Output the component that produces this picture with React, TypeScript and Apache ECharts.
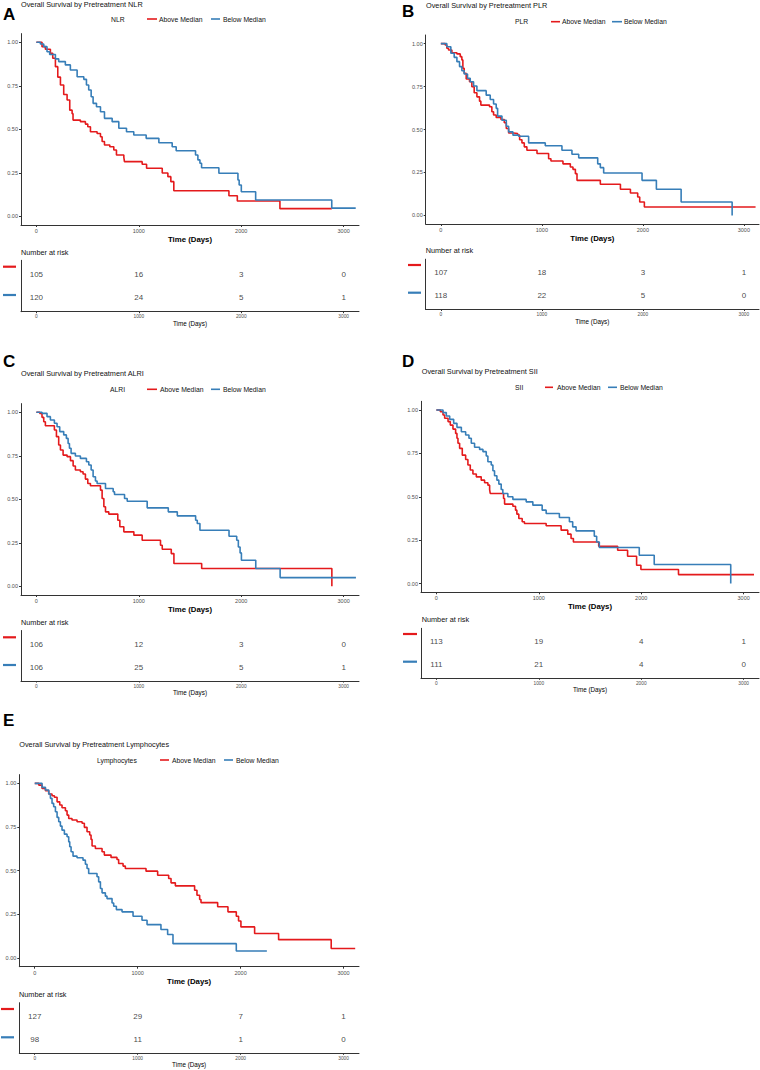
import React, { useEffect, useRef } from "react";
import * as echarts from "echarts";

const RED = "#E41A1C";
const BLUE = "#377EB8";
const FONT = '"Liberation Sans", Arial, Helvetica, sans-serif';

const timeTicks = [0, 1000, 2000, 3000];
const survTicks = [0, 0.25, 0.5, 0.75, 1];
const groupNames = ["Above Median", "Below Median"];

// ---- Panel A: NLR ----
const nlrAbove = [[0,1],[55,0.975],[88,0.96],[137,0.937],[160,0.908],[186,0.86],[209,0.8],[235,0.755],[267,0.7],[300,0.668],[326,0.61],[349,0.59],[358,0.553],[430,0.544],[479,0.53],[502,0.515],[528,0.486],[593,0.476],[626,0.457],[642,0.43],[665,0.41],[717,0.4],[756,0.381],[782,0.352],[854,0.339],[860,0.314],[1033,0.299],[1076,0.276],[1229,0.249],[1284,0.228],[1313,0.199],[1342,0.147],[1880,0.118],[1962,0.088],[2378,0.044],[2884,0.044]];
const nlrBelow = [[0,1],[39,0.99],[72,0.975],[104,0.946],[130,0.93],[186,0.905],[218,0.889],[283,0.87],[332,0.841],[398,0.802],[463,0.787],[489,0.755],[511,0.726],[535,0.687],[554,0.649],[587,0.63],[626,0.601],[665,0.563],[740,0.544],[805,0.506],[880,0.486],[951,0.467],[1072,0.448],[1196,0.423],[1326,0.4],[1365,0.377],[1554,0.352],[1577,0.324],[1597,0.305],[1613,0.279],[1782,0.247],[1968,0.209],[1980,0.18],[2001,0.141],[2141,0.094],[2884,0.047],[3118,0.047]];
const nlrRiskAbove = [105, 16, 3, 0];
const nlrRiskBelow = [120, 24, 5, 1];

// ---- Panel B: PLR ----
const plrAbove = [[0,1],[43,0.992],[59,0.973],[76,0.963],[109,0.947],[159,0.94],[192,0.924],[208,0.905],[218,0.856],[231,0.827],[251,0.794],[284,0.778],[307,0.749],[330,0.714],[357,0.69],[383,0.665],[396,0.642],[482,0.632],[505,0.603],[522,0.584],[548,0.57],[595,0.558],[628,0.539],[648,0.506],[671,0.48],[720,0.477],[760,0.467],[780,0.44],[803,0.422],[826,0.399],[852,0.379],[952,0.36],[1067,0.33],[1090,0.317],[1209,0.3],[1282,0.282],[1308,0.268],[1332,0.243],[1348,0.204],[1579,0.181],[1778,0.152],[1877,0.13],[1949,0.107],[1969,0.078],[2015,0.049],[3116,0.049]];
const plrBelow = [[0,1],[59,0.982],[99,0.944],[132,0.92],[159,0.895],[185,0.866],[208,0.842],[231,0.823],[264,0.798],[291,0.778],[324,0.753],[357,0.726],[449,0.7],[489,0.675],[522,0.648],[548,0.623],[562,0.578],[605,0.554],[648,0.519],[671,0.486],[714,0.467],[770,0.461],[869,0.422],[1034,0.405],[1199,0.379],[1298,0.356],[1365,0.335],[1553,0.3],[1579,0.278],[1612,0.247],[1992,0.204],[2134,0.152],[2379,0.078],[2884,0]];
const plrRiskAbove = [107, 18, 3, 1];
const plrRiskBelow = [118, 22, 5, 0];

// ---- Panel C: ALRI ----
const alriAbove = [[0,1],[33,0.994],[55,0.971],[72,0.946],[88,0.923],[176,0.898],[196,0.86],[218,0.812],[235,0.783],[261,0.754],[300,0.745],[333,0.722],[359,0.691],[381,0.668],[430,0.658],[456,0.645],[479,0.616],[502,0.591],[528,0.578],[626,0.553],[642,0.505],[659,0.457],[675,0.428],[707,0.415],[795,0.38],[815,0.342],[854,0.313],[952,0.294],[1033,0.265],[1212,0.236],[1229,0.213],[1317,0.188],[1343,0.131],[1614,0.102],[2885,0]];
const alriBelow = [[0,1],[55,0.994],[104,0.975],[137,0.956],[176,0.937],[202,0.917],[228,0.889],[267,0.87],[293,0.85],[310,0.821],[323,0.793],[339,0.764],[381,0.749],[430,0.735],[489,0.716],[512,0.697],[535,0.668],[554,0.63],[577,0.605],[593,0.591],[675,0.562],[750,0.543],[763,0.528],[861,0.505],[887,0.489],[1082,0.451],[1288,0.428],[1376,0.405],[1555,0.38],[1571,0.361],[1597,0.322],[1881,0.288],[1956,0.265],[1972,0.226],[1989,0.192],[2002,0.15],[2142,0.102],[2380,0.05],[3120,0.05]];
const alriRiskAbove = [106, 12, 3, 0];
const alriRiskBelow = [106, 25, 5, 1];

// ---- Panel D: SII ----
const siiAbove = [[0,1],[39,0.99],[65,0.971],[81,0.952],[114,0.933],[136,0.913],[162,0.89],[188,0.865],[201,0.837],[211,0.808],[227,0.779],[253,0.74],[286,0.715],[308,0.683],[331,0.654],[357,0.631],[390,0.615],[438,0.596],[471,0.581],[503,0.567],[520,0.542],[526,0.519],[656,0.49],[666,0.458],[747,0.446],[773,0.423],[786,0.4],[805,0.375],[838,0.356],[860,0.346],[1072,0.333],[1218,0.308],[1283,0.285],[1315,0.26],[1338,0.24],[1585,0.215],[1770,0.192],[1867,0.158],[1955,0.106],[1997,0.081],[2364,0.052],[3101,0.052]];
const siiBelow = [[0,1],[65,0.985],[97,0.965],[130,0.946],[169,0.923],[201,0.9],[244,0.875],[286,0.856],[318,0.837],[341,0.808],[373,0.785],[422,0.773],[455,0.76],[487,0.735],[503,0.702],[536,0.683],[552,0.65],[568,0.621],[591,0.596],[610,0.573],[633,0.542],[649,0.519],[698,0.5],[747,0.485],[877,0.471],[942,0.452],[1033,0.423],[1072,0.404],[1201,0.381],[1299,0.356],[1331,0.327],[1364,0.304],[1542,0.273],[1565,0.24],[1591,0.208],[1981,0.163],[2127,0.11],[2874,0]];
const siiRiskAbove = [113, 19, 4, 1];
const siiRiskBelow = [111, 21, 4, 0];

// ---- Panel E: Lymphocytes ----
const lymAbove = [[0,1],[39,0.99],[71,0.971],[104,0.958],[136,0.939],[168,0.929],[191,0.92],[217,0.894],[243,0.876],[265,0.86],[298,0.843],[314,0.818],[330,0.799],[362,0.79],[411,0.78],[460,0.771],[482,0.748],[508,0.723],[534,0.704],[547,0.679],[557,0.641],[589,0.627],[654,0.608],[676,0.589],[741,0.576],[799,0.564],[815,0.541],[858,0.526],[880,0.512],[1081,0.497],[1194,0.474],[1301,0.455],[1324,0.43],[1366,0.413],[1553,0.388],[1576,0.359],[1602,0.335],[1615,0.317],[1777,0.293],[1877,0.264],[1958,0.239],[1980,0.212],[2003,0.178],[2136,0.14],[2369,0.105],[2880,0.054],[3113,0.054]];
const lymBelow = [[0,1],[55,1],[71,0.977],[104,0.962],[136,0.939],[152,0.914],[168,0.885],[184,0.866],[201,0.837],[217,0.805],[233,0.78],[249,0.755],[265,0.732],[288,0.709],[314,0.694],[330,0.665],[340,0.637],[353,0.608],[372,0.583],[411,0.574],[469,0.56],[492,0.537],[508,0.512],[524,0.484],[605,0.465],[621,0.436],[638,0.398],[654,0.373],[686,0.354],[702,0.34],[751,0.315],[767,0.296],[793,0.277],[848,0.264],[955,0.239],[1042,0.216],[1091,0.191],[1226,0.163],[1291,0.134],[1343,0.082],[1958,0.04],[2255,0.04]];
const lymRiskAbove = [127, 29, 7, 1];
const lymRiskBelow = [98, 11, 1, 0];

const panels = [
  {
    letter: "A", marker: "NLR", above: nlrAbove, below: nlrBelow, riskAbove: nlrRiskAbove, riskBelow: nlrRiskBelow,
    L: { letter: [3, 14], title: [21, 4], legY: 19, legTitleX: 111, redLine: [147, 157], redText: 159, blueLine: [211, 220], blueText: 223,
      km: [21, 33.6, 338, 191.4], nar: [21, 252.3], sw: [3, 16, 266.7, 295], tbl: [21, 260.3, 338, 51.4] },
  },
  {
    letter: "B", marker: "PLR", above: plrAbove, below: plrBelow, riskAbove: plrRiskAbove, riskBelow: plrRiskBelow,
    L: { letter: [402, 11.5], title: [426, 5], legY: 21.7, legTitleX: 515, redLine: [551, 560], redText: 562, blueLine: [612, 622], blueText: 624,
      km: [425.7, 35, 333.3, 189], nar: [425.7, 250.7], sw: [408, 421, 265, 292.7], tbl: [425.7, 259.2, 333.3, 50.3] },
  },
  {
    letter: "C", marker: "ALRI", above: alriAbove, below: alriBelow, riskAbove: alriRiskAbove, riskBelow: alriRiskBelow,
    L: { letter: [3, 361.5], title: [21, 373.3], legY: 389.3, legTitleX: 110, redLine: [147, 157], redText: 160, blueLine: [211, 220], blueText: 223,
      km: [21, 403.6, 338, 191.4], nar: [21, 622.3], sw: [3, 16, 637.3, 665], tbl: [21, 630.5, 338, 50.5] },
  },
  {
    letter: "D", marker: "SII", above: siiAbove, below: siiBelow, riskAbove: siiRiskAbove, riskBelow: siiRiskBelow,
    L: { letter: [402, 361.5], title: [421.7, 371.7], legY: 387.3, legTitleX: 515, redLine: [545, 553], redText: 557, blueLine: [608, 617], blueText: 620,
      km: [421, 401.3, 338, 191], nar: [421.7, 619.3], sw: [403, 417, 634, 661.7], tbl: [421, 628.3, 338, 50] },
  },
  {
    letter: "E", marker: "Lymphocytes", above: lymAbove, below: lymBelow, riskAbove: lymRiskAbove, riskBelow: lymRiskBelow,
    L: { letter: [3, 720], title: [19.3, 744], legY: 760, legTitleX: 97, redLine: [160, 169], redText: 172, blueLine: [224, 233], blueText: 236,
      km: [19.3, 774.6, 339.7, 192.1], nar: [19, 994], sw: [1, 14, 1009, 1037.3], tbl: [19.3, 1002.7, 339.7, 50.6] },
  },
];

const plainNum = (v: number) => String(v);

function buildOption() {
  const grid: any[] = [];
  const xAxis: any[] = [];
  const yAxis: any[] = [];
  const series: any[] = [];
  const graphic: any[] = [];
  const axisColor = "#333333";
  const textColor = "#111111";

  panels.forEach((p) => {
    const L = p.L;
    const km = grid.length;
    grid.push({ left: L.km[0], top: L.km[1], width: L.km[2], height: L.km[3] });
    xAxis.push({
      type: "value", gridIndex: km, min: -150, max: 3150,
      axisLine: { show: true, onZero: false, lineStyle: { color: axisColor, width: 1 } },
      axisTick: { show: true, length: 2, customValues: timeTicks, lineStyle: { color: axisColor } },
      axisLabel: { customValues: timeTicks, fontSize: 5.5, color: "#4D4D4D", margin: 2.8, fontFamily: FONT, formatter: plainNum },
      splitLine: { show: false },
      name: "Time (Days)", nameLocation: "middle", nameGap: 10.4,
      nameTextStyle: { fontSize: 7.8, fontWeight: "bold", color: "#000", fontFamily: FONT },
    });
    yAxis.push({
      type: "value", gridIndex: km, min: -0.05, max: 1.05,
      axisLine: { show: true, onZero: false, lineStyle: { color: axisColor, width: 1 } },
      axisTick: { show: true, length: 2, customValues: survTicks, lineStyle: { color: axisColor } },
      axisLabel: { customValues: survTicks, fontSize: 5.5, color: "#4D4D4D", margin: 3, fontFamily: FONT,
        formatter: (v: number) => v.toFixed(2) },
      splitLine: { show: false },
    });
    const tb = grid.length;
    grid.push({ left: L.tbl[0], top: L.tbl[1], width: L.tbl[2], height: L.tbl[3] });
    xAxis.push({
      type: "value", gridIndex: tb, min: -150, max: 3150,
      axisLine: { show: true, onZero: false, lineStyle: { color: axisColor, width: 1 } },
      axisTick: { show: true, length: 1.5, customValues: timeTicks, lineStyle: { color: axisColor } },
      axisLabel: { customValues: timeTicks, fontSize: 4.8, color: "#4D4D4D", margin: 2.6, fontFamily: FONT, formatter: plainNum },
      splitLine: { show: false },
      name: "Time (Days)", nameLocation: "middle", nameGap: 8.6,
      nameTextStyle: { fontSize: 6.3, color: "#000", fontFamily: FONT },
    });
    yAxis.push({
      type: "value", gridIndex: tb, min: 0.4, max: 2.6,
      axisLine: { show: true, onZero: false, lineStyle: { color: axisColor, width: 1 } },
      axisTick: { show: false }, axisLabel: { show: false }, splitLine: { show: false },
    });

    series.push({
      type: "line", name: groupNames[0], xAxisIndex: km, yAxisIndex: km, data: p.above,
      step: "end", symbol: "none", silent: true,
      lineStyle: { color: RED, width: 1.6 }, itemStyle: { color: RED },
    });
    series.push({
      type: "line", name: groupNames[1], xAxisIndex: km, yAxisIndex: km, data: p.below,
      step: "end", symbol: "none", silent: true,
      lineStyle: { color: BLUE, width: 1.6 }, itemStyle: { color: BLUE },
    });
    const riskLabel = {
      show: true, position: "inside", fontSize: 8, color: textColor, fontFamily: FONT,
      textBorderWidth: 0, textBorderColor: "transparent",
      formatter: (prm: any) => String(prm.value[2]),
    };
    series.push({
      type: "scatter", name: groupNames[0] + " at risk", xAxisIndex: tb, yAxisIndex: tb, symbolSize: 0, silent: true,
      itemStyle: { color: textColor },
      data: timeTicks.map((t, j) => [t, 2, p.riskAbove[j]]), label: riskLabel,
    });
    series.push({
      type: "scatter", name: groupNames[1] + " at risk", xAxisIndex: tb, yAxisIndex: tb, symbolSize: 0, silent: true,
      itemStyle: { color: textColor },
      data: timeTicks.map((t, j) => [t, 1, p.riskBelow[j]]), label: riskLabel,
    });

    const txt = (x: number, y: number, text: string, fontSize: number, extra: any = {}) => ({
      type: "text", x, y,
      style: { text, fontSize, fill: textColor, fontFamily: FONT, align: "left", verticalAlign: "middle", ...extra },
    });
    graphic.push(txt(L.letter[0], L.letter[1], p.letter, 17, { fontWeight: "bold", fill: "#000" }));
    graphic.push(txt(L.title[0], L.title[1], "Overall Survival by Pretreatment " + p.marker, 7.3));
    graphic.push(txt(L.legTitleX, L.legY, p.marker, 6.8));
    graphic.push({ type: "line", shape: { x1: L.redLine[0], y1: L.legY, x2: L.redLine[1], y2: L.legY },
      style: { stroke: RED, lineWidth: 1.6 } });
    graphic.push(txt(L.redText, L.legY, groupNames[0], 6.8));
    graphic.push({ type: "line", shape: { x1: L.blueLine[0], y1: L.legY, x2: L.blueLine[1], y2: L.legY },
      style: { stroke: BLUE, lineWidth: 1.6 } });
    graphic.push(txt(L.blueText, L.legY, groupNames[1], 6.8));
    graphic.push(txt(L.nar[0], L.nar[1], "Number at risk", 7.3));
    graphic.push({ type: "rect", shape: { x: L.sw[0], y: L.sw[2] - 1.1, width: L.sw[1] - L.sw[0], height: 2.2 }, style: { fill: RED } });
    graphic.push({ type: "rect", shape: { x: L.sw[0], y: L.sw[3] - 1.1, width: L.sw[1] - L.sw[0], height: 2.2 }, style: { fill: BLUE } });
  });

  return {
    animation: false,
    backgroundColor: "#FFFFFF",
    textStyle: { fontFamily: FONT },
    grid, xAxis, yAxis, series, graphic,
  };
}

export default function App() {
  const ref = useRef<HTMLDivElement>(null);
  useEffect(() => {
    if (!ref.current) return;
    const chart = echarts.init(ref.current, null, { renderer: "svg" });
    chart.setOption(buildOption() as any);
    return () => chart.dispose();
  }, []);
  return (
    <div
      ref={ref}
      style={{ position: "absolute", left: 0, top: 0, width: 760, height: 1070, background: "#fff" }}
    />
  );
}
